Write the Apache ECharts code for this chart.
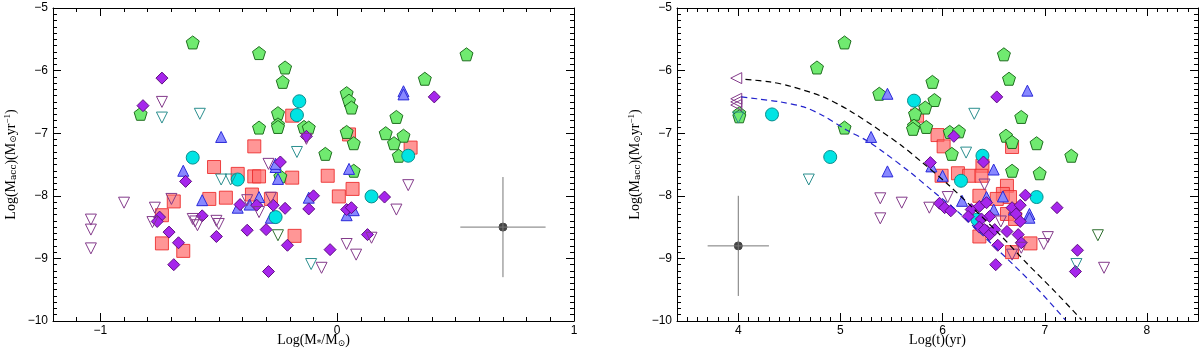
<!DOCTYPE html>
<html>
<head>
<meta charset="utf-8">
<script src="https://cdn.jsdelivr.net/npm/echarts@6/dist/echarts.min.js"></script>
<style>
  html, body { margin: 0; padding: 0; background: #fff; }
  #chart { width: 1200px; height: 348px; }
</style>
</head>
<body>
<div id="chart"></div>
<script>
// ---- left panel: log Macc vs log M* ----
const massGreen = [[-0.61,-5.55],[-0.33,-5.72],[-0.22,-5.95],[-0.23,-6.18],[-0.83,-6.69],[-0.25,-6.68],[-0.25,-6.86],[-0.25,-6.90],[-0.33,-6.91],[-0.24,-7.69],[0.546,-5.74],[0.37,-6.13],[0.04,-6.36],[0.05,-6.48],[0.06,-6.59],[0.25,-6.74],[-0.14,-6.90],[-0.12,-6.91],[0.04,-6.98],[0.07,-7.16],[0.205,-7.00],[0.28,-7.04],[0.24,-7.16],[0.26,-7.36],[-0.05,-7.33],[0.07,-7.60]];
const massRed = [[-0.19,-6.72],[-0.35,-7.21],[-0.52,-7.54],[-0.42,-7.65],[-0.35,-7.69],[-0.33,-7.69],[-0.69,-8.09],[-0.54,-8.05],[-0.47,-8.03],[-0.36,-7.98],[-0.28,-8.05],[-0.74,-8.31],[-0.74,-8.76],[-0.65,-8.88],[-0.18,-8.64],[-0.19,-7.71],[0.05,-7.02],[0.31,-7.23],[-0.04,-7.68],[0.065,-7.89],[0.007,-8.01]];
const massBlue = [[-0.49,-7.06],[-0.65,-7.60],[-0.26,-7.54],[-0.57,-8.07],[-0.33,-8.02],[-0.42,-8.19],[-0.37,-8.14],[-0.28,-8.35],[-0.25,-7.73],[0.28,-6.33],[0.28,-6.38],[0.05,-7.57],[-0.12,-8.03],[0.04,-8.31],[0.07,-8.23],[-0.26,-7.49]];
const massCyan = [[-0.61,-7.39],[-0.16,-6.49],[-0.17,-6.71],[-0.42,-7.74],[-0.26,-8.34],[0.30,-7.36],[0.145,-8.01]];
const massPurple = [[-0.74,-6.12],[-0.82,-6.56],[-0.24,-7.46],[-0.64,-7.77],[-0.41,-8.14],[-0.34,-8.15],[-0.27,-8.15],[-0.75,-8.34],[-0.57,-8.32],[-0.76,-8.41],[-0.71,-8.58],[-0.67,-8.75],[-0.69,-9.10],[-0.51,-8.65],[-0.38,-8.55],[-0.30,-8.54],[-0.22,-8.20],[-0.21,-8.79],[-0.29,-9.21],[0.41,-6.42],[-0.13,-7.05],[0.20,-8.02],[-0.10,-8.00],[-0.12,-8.21],[0.04,-8.22],[0.06,-8.19],[0.128,-8.62],[-0.03,-8.86]];
const massLimPurple = [[-0.74,-6.50],[-0.29,-7.49],[-0.70,-8.05],[-0.38,-8.07],[-0.28,-8.03],[-0.33,-8.26],[-0.77,-8.19],[-0.61,-8.37],[-0.51,-8.40],[-0.90,-8.11],[-1.04,-8.38],[-1.04,-8.54],[-1.04,-8.84],[-0.78,-8.42],[-0.60,-8.41],[-0.59,-8.47],[-0.50,-8.45],[-0.13,-7.09],[0.30,-7.83],[0.25,-8.22],[0.145,-8.67],[0.04,-8.77],[0.08,-8.94],[-0.066,-9.15]];
const massLimTeal = [[-0.74,-6.75],[-0.58,-6.69],[-0.17,-7.30],[-0.49,-7.74],[-0.45,-7.74],[-0.11,-9.09]];
const massLimGreen = [[-0.25,-8.63]];
const massErr = { x: 0.70, y: -8.5, dx: 0.18, dy: 0.8 };

// ---- right panel: log Macc vs log age ----
const ageGreen = [[5.04,-5.55],[4.77,-5.95],[4.01,-6.68],[4.01,-6.73],[5.38,-6.37],[5.04,-6.91],[6.60,-5.74],[5.90,-6.18],[6.65,-6.13],[5.92,-6.47],[5.83,-6.59],[5.73,-6.69],[6.77,-6.74],[5.72,-6.88],[5.71,-6.93],[5.84,-6.90],[6.07,-6.98],[6.16,-6.97],[6.09,-7.33],[6.62,-7.04],[6.68,-7.14],[6.92,-7.16],[7.26,-7.36],[6.68,-7.60],[6.95,-7.64]];
const ageRed = [[5.75,-6.72],[5.95,-7.03],[6.01,-7.21],[6.68,-7.22],[6.39,-7.52],[5.99,-7.68],[6.15,-7.64],[6.26,-7.68],[6.38,-7.68],[6.63,-7.84],[6.59,-7.97],[6.53,-8.05],[6.66,-8.02],[6.36,-8.00],[6.63,-8.29],[6.71,-8.37],[6.36,-8.65],[6.86,-8.76],[6.68,-8.90]];
const ageBlue = [[5.46,-6.37],[5.30,-7.06],[5.46,-7.61],[6.83,-6.32],[6.50,-7.58],[5.89,-7.53],[6.00,-7.68],[6.19,-8.08],[6.43,-8.02],[6.59,-8.01],[6.50,-8.22],[6.70,-8.22],[6.85,-8.29],[6.85,-8.35]];
const ageCyan = [[4.33,-6.70],[4.90,-7.38],[5.72,-6.48],[6.39,-7.36],[6.18,-7.76],[6.92,-8.02],[6.34,-8.38]];
const agePurple = [[6.53,-6.42],[6.11,-7.05],[6.40,-7.46],[5.88,-7.47],[5.97,-8.12],[6.02,-8.19],[6.08,-8.24],[6.28,-8.22],[6.36,-8.17],[6.43,-8.11],[6.25,-8.33],[6.46,-8.33],[6.68,-8.19],[6.76,-8.15],[6.81,-7.99],[6.72,-8.29],[6.76,-8.41],[6.38,-8.37],[6.36,-8.50],[6.43,-8.56],[6.41,-8.54],[6.46,-8.62],[6.51,-8.54],[6.63,-8.57],[6.74,-8.62],[6.77,-8.75],[6.54,-8.79],[6.52,-9.10],[7.12,-8.19],[7.32,-8.87],[7.30,-9.21]];
const ageLimPurple = [[5.39,-8.04],[5.39,-8.36],[5.60,-8.11],[5.87,-8.19],[6.05,-8.02],[6.41,-7.82],[6.57,-8.41],[6.77,-8.83],[6.68,-8.94],[7.03,-8.66],[6.99,-8.77],[7.58,-9.15]];
const ageLimTeal = [[4.00,-6.75],[4.69,-7.74],[6.31,-6.69],[6.23,-7.31],[7.31,-9.09]];
const ageLimGreen = [[7.52,-8.63]];
const ageLowPurple = [[3.98,-6.12],[3.98,-6.45],[3.98,-6.50],[3.98,-6.55]];
const ageErr = { x: 4.0, y: -8.8, dx: 0.3, dy: 0.8 };

// dashed model tracks
const trackBlackT = [4.07, 4.31, 4.51, 4.83, 5.09, 5.39, 5.60, 5.81, 6.04, 6.30, 6.56, 6.82, 7.10, 7.36];
const trackBlackM = [-6.14, -6.18, -6.25, -6.42, -6.64, -6.96, -7.20, -7.48, -7.80, -8.20, -8.62, -9.07, -9.53, -9.98];
const trackBlueT = [4.03, 4.18, 4.41, 4.64, 4.83, 5.06, 5.26, 5.42, 5.68, 5.90, 6.14, 6.50, 6.89, 7.20];
const trackBlueM = [-6.42, -6.45, -6.50, -6.58, -6.72, -6.95, -7.12, -7.30, -7.62, -7.92, -8.24, -8.80, -9.42, -9.98];

const massTicks = [-1, 0, 1];
const ageTicks = [4, 5, 6, 7, 8];

const chart = echarts.init(document.getElementById('chart'));

const PENT = 'path://M0,-1L0.951,-0.309L0.588,0.809L-0.588,0.809L-0.951,-0.309Z';
const minus = v => String(v).replace('-', '\u2212');
const nameStyle = {
    fontFamily: 'Liberation Serif', fontSize: 14, color: '#000',
    rich: {
        sub: { fontFamily: 'DejaVu Serif', fontSize: 9, padding: [6, 0, 0, 0] },
        sup: { fontFamily: 'Liberation Serif', fontSize: 9, padding: [0, 0, 7, 0] }
    }
};
const labelStyle = { fontFamily: 'Liberation Sans', fontSize: 12, color: '#000', formatter: minus };

function xAxes(grid, min, max, majors, name) {
    const base = {
        type: 'value', gridIndex: grid, min: min, max: max, interval: 0.1,
        splitLine: { show: false },
        axisLine: { onZero: false, lineStyle: { color: '#000', width: 1 } },
        axisTick: { inside: true, length: 4, lineStyle: { color: '#000' } },
        axisLabel: { show: false }
    };
    const major = { inside: true, length: 8, customValues: majors, lineStyle: { color: '#000' } };
    const noLine = { show: false, onZero: false };
    return [
        Object.assign({}, base, {
            position: 'bottom', name: name, nameLocation: 'middle', nameGap: 12,
            nameMoveOverlap: false,
            nameTextStyle: nameStyle,
            axisLabel: Object.assign({ customValues: majors, margin: 4 }, labelStyle)
        }),
        Object.assign({}, base, { position: 'bottom', axisLine: noLine, axisTick: major }),
        Object.assign({}, base, { position: 'top' }),
        Object.assign({}, base, { position: 'top', axisLine: noLine, axisTick: major })
    ];
}

function yAxes(grid, name) {
    const base = {
        type: 'value', gridIndex: grid, min: -10, max: -5, interval: 1,
        splitLine: { show: false },
        axisLine: { onZero: false, lineStyle: { color: '#000', width: 1 } },
        axisTick: { inside: true, length: 8, lineStyle: { color: '#000' } },
        minorTick: { show: true, splitNumber: 10, length: 4, lineStyle: { color: '#000' } },
        axisLabel: { show: false }
    };
    return [
        Object.assign({}, base, {
            position: 'left', name: name, nameLocation: 'middle', nameRotate: 90, nameGap: 34,
            nameMoveOverlap: false,
            nameTextStyle: nameStyle,
            axisLabel: Object.assign({ margin: 5 }, labelStyle)
        }),
        Object.assign({}, base, { position: 'right' })
    ];
}

function pts(data, grid, symbol, size, fill, stroke, rotate) {
    return {
        type: 'scatter', xAxisIndex: grid * 4, yAxisIndex: grid * 2,
        data: data, symbol: symbol, symbolSize: size, symbolRotate: rotate || 0,
        silent: true,
        itemStyle: { color: fill, borderColor: stroke, borderWidth: 1, opacity: 1 }
    };
}

function line(data, grid, color, dash) {
    return {
        type: 'line', xAxisIndex: grid * 4, yAxisIndex: grid * 2, data: data,
        symbol: 'none', silent: true, smooth: dash ? 0.3 : false,
        lineStyle: { color: color, width: dash ? 1.2 : 1, type: dash ? [6, 4] : 'solid' }
    };
}

function errBar(e, grid) {
    return [
        line([[e.x - e.dx, e.y], [e.x + e.dx, e.y]], grid, '#777'),
        line([[e.x, e.y - e.dy], [e.x, e.y + e.dy]], grid, '#777'),
        pts([[e.x, e.y]], grid, 'circle', 8, '#444', '#444')
    ];
}

const NONE = 'rgba(255,255,255,0)';
const styles = {
    red: ['rect', 13, 'rgba(255,110,110,0.72)', 'rgba(235,40,40,0.85)'],
    green: [PENT, 13, '#70ea70', '#1f6e1f'],
    blue: ['triangle', 11, '#8888ff', '#2a2ad8'],
    cyan: ['circle', 13, '#00e4e4', '#0a8c8c'],
    purple: ['diamond', 12, '#a626ec', '#5e0e80']
};
function group(data, grid, key) {
    const s = styles[key];
    return pts(data, grid, s[0], s[1], s[2], s[3]);
}

const series = [
    group(massRed, 0, 'red'), group(massGreen, 0, 'green'), group(massBlue, 0, 'blue'),
    group(massCyan, 0, 'cyan'), group(massPurple, 0, 'purple'),
    pts(massLimPurple, 0, 'triangle', 11, NONE, '#833a8a', 180),
    pts(massLimTeal, 0, 'triangle', 11, NONE, '#2a8e8e', 180),
    pts(massLimGreen, 0, 'triangle', 11, NONE, '#2e6e2e', 180),
    ...errBar(massErr, 0),

    line(trackBlackT.map((t, i) => [t, trackBlackM[i]]), 1, '#000', true),
    line(trackBlueT.map((t, i) => [t, trackBlueM[i]]), 1, '#2222cc', true),
    group(ageRed, 1, 'red'), group(ageGreen, 1, 'green'), group(ageBlue, 1, 'blue'),
    group(ageCyan, 1, 'cyan'), group(agePurple, 1, 'purple'),
    pts(ageLimPurple, 1, 'triangle', 11, NONE, '#833a8a', 180),
    pts(ageLimTeal, 1, 'triangle', 11, NONE, '#2a8e8e', 180),
    pts(ageLimGreen, 1, 'triangle', 11, NONE, '#2e6e2e', 180),
    pts(ageLowPurple, 1, 'triangle', 11, NONE, '#833a8a', 90),
    ...errBar(ageErr, 1)
];

const yName = 'Log(M{sub|acc})(M{sub|\u2299}yr{sup|\u22121})';

chart.setOption({
    animation: false,
    grid: [
        { left: 53, top: 8, width: 521, height: 313, containLabel: false, outerBoundsMode: 'none' },
        { left: 677, top: 8, width: 521, height: 313, containLabel: false, outerBoundsMode: 'none' }
    ],
    xAxis: [].concat(
        xAxes(0, -1.2, 1, massTicks, 'Log(M{sub|*}/M{sub|\u2299})'),
        xAxes(1, 3.4, 8.5, ageTicks, 'Log(t)(yr)')
    ),
    yAxis: [].concat(yAxes(0, yName), yAxes(1, yName)),
    series: series
});
</script>
</body>
</html>
